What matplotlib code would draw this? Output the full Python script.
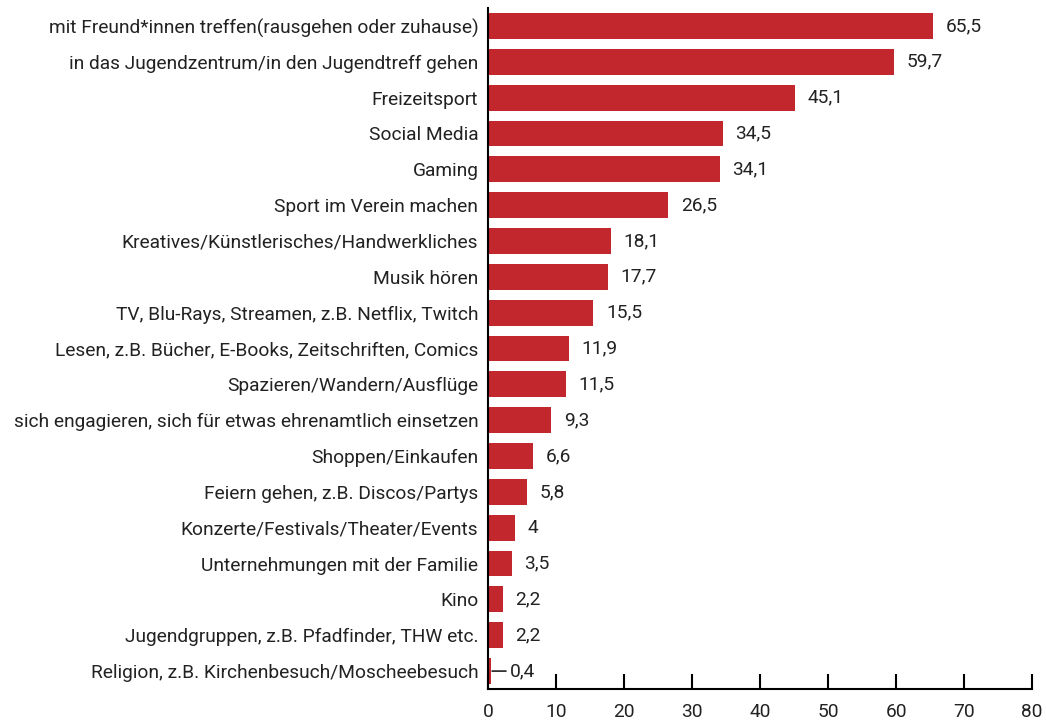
import numpy as np
import matplotlib.pyplot as plt

categories = [
    "mit Freund*innen treffen(rausgehen oder zuhause)",
    "in das Jugendzentrum/in den Jugendtreff gehen",
    "Freizeitsport",
    "Social Media",
    "Gaming",
    "Sport im Verein machen",
    "Kreatives/Künstlerisches/Handwerkliches",
    "Musik hören",
    "TV, Blu-Rays, Streamen, z.B. Netflix, Twitch",
    "Lesen, z.B. Bücher, E-Books, Zeitschriften, Comics",
    "Spazieren/Wandern/Ausflüge",
    "sich engagieren, sich für etwas ehrenamtlich einsetzen",
    "Shoppen/Einkaufen",
    "Feiern gehen, z.B. Discos/Partys",
    "Konzerte/Festivals/Theater/Events",
    "Unternehmungen mit der Familie",
    "Kino",
    "Jugendgruppen, z.B. Pfadfinder, THW etc.",
    "Religion, z.B. Kirchenbesuch/Moscheebesuch",
]
values = [65.5, 59.7, 45.1, 34.5, 34.1, 26.5, 18.1, 17.7, 15.5, 11.9,
          11.5, 9.3, 6.6, 5.8, 4, 3.5, 2.2, 2.2, 0.4]

plt.rcParams['font.family'] = ['Roboto', 'DejaVu Sans']
fs = 13.8
tc = '#222222'

fig = plt.figure(figsize=(10.46, 7.25), dpi=100)
ax = fig.add_axes([488/1046, 36/725, 544/1046, 681/725])

y = np.arange(len(categories))
ax.barh(y, values, height=0.72, color='#c1272d')
ax.set_ylim(len(categories) - 0.5, -0.5)
ax.set_xlim(0, 80)
ax.set_yticks(y)
ax.set_yticklabels(categories, fontsize=fs, color=tc)
ax.tick_params(axis='y', length=0, pad=7)
ax.set_xticks(range(0, 81, 10))
ax.tick_params(axis='x', direction='in', length=11, width=1.5, labelsize=fs,
               pad=10, labelcolor=tc)

for i, v in enumerate(values):
    lab = f"{v:g}".replace('.', ',')
    if v < 1:
        ax.annotate(lab, xy=(v, i), xytext=(14, 0), textcoords='offset points',
                    va='center', ha='left', fontsize=fs, color=tc,
                    arrowprops=dict(arrowstyle='-', color=tc, lw=1.2,
                                    shrinkA=1, shrinkB=1))
    else:
        ax.annotate(lab, xy=(v, i), xytext=(9, 0), textcoords='offset points',
                    va='center', ha='left', fontsize=fs, color=tc)

for s in ['top', 'right']:
    ax.spines[s].set_visible(False)
ax.spines['left'].set_linewidth(1.5)
ax.spines['bottom'].set_linewidth(1.5)

fig.savefig('out.png', dpi=100)
